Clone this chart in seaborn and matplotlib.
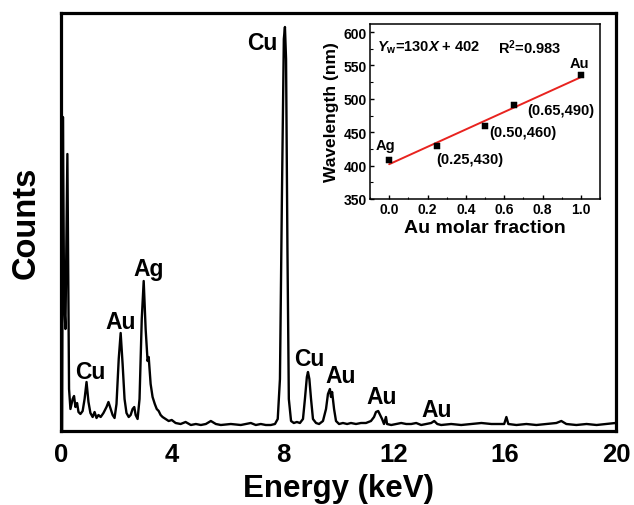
import matplotlib
matplotlib.use("Agg")
import matplotlib.pyplot as plt
from matplotlib.ticker import MultipleLocator
import seaborn as sns
import pandas as pd

# ---------------- data ----------------
energy_kev = [0.04, 0.07, 0.11, 0.16, 0.23, 0.29, 0.34, 0.42, 0.47, 0.52, 0.58, 0.63, 0.70, 0.78,
              0.85, 0.92, 0.99, 1.06, 1.14, 1.21, 1.28, 1.35, 1.43, 1.53, 1.64, 1.71, 1.79, 1.86,
              1.93, 2.00, 2.08, 2.15, 2.22, 2.29, 2.36, 2.44, 2.51, 2.58, 2.64, 2.69, 2.76, 2.83,
              2.91, 2.98, 3.05, 3.12, 3.16, 3.23, 3.30, 3.38, 3.45, 3.52, 3.59, 3.66, 3.77, 3.88,
              3.99, 4.13, 4.31, 4.49, 4.68, 4.86, 5.04, 5.22, 5.40, 5.58, 5.76, 6.12, 6.48, 6.84,
              7.02, 7.20, 7.38, 7.56, 7.71, 7.81, 7.89, 7.96, 8.03, 8.07, 8.11, 8.16, 8.21, 8.29,
              8.39, 8.50, 8.61, 8.72, 8.79, 8.86, 8.90, 8.95, 9.01, 9.08, 9.19, 9.30, 9.44, 9.55,
              9.62, 9.69, 9.73, 9.77, 9.84, 9.91, 10.02, 10.16, 10.31, 10.45, 10.63, 10.81, 10.99,
              11.17, 11.28, 11.35, 11.43, 11.50, 11.57, 11.64, 11.71, 11.75, 11.90, 12.08, 12.26,
              12.44, 12.62, 12.80, 12.98, 13.16, 13.34, 13.45, 13.56, 13.70, 14.06, 14.42, 14.78,
              15.15, 15.51, 15.87, 15.97, 16.05, 16.12, 16.41, 16.77, 17.13, 17.49, 17.85, 18.03,
              18.21, 18.57, 18.94, 19.30, 19.66, 19.98]
counts = [0, 3140, 1320, 1020, 2770, 420, 220, 320, 350, 240, 280, 190, 170, 200,
          320, 490, 290, 180, 140, 190, 130, 160, 140, 180, 240, 290, 220, 160,
          130, 270, 720, 980, 670, 320, 180, 140, 160, 220, 240, 160, 120, 320,
          1120, 1500, 1020, 700, 740, 470, 340, 270, 220, 200, 160, 140, 120, 100,
          110, 80, 70, 90, 60, 70, 60, 70, 100, 70, 60, 70, 60, 80,
          60, 70, 60, 60, 70, 120, 520, 2320, 3920, 4040, 3720, 1820, 320, 100,
          80, 90, 80, 120, 320, 540, 590, 520, 320, 120, 80, 70, 100, 220,
          370, 420, 340, 390, 220, 100, 70, 80, 70, 80, 70, 80, 80,
          100, 140, 190, 200, 160, 120, 70, 140, 70, 60, 70, 80,
          70, 70, 80, 60, 70, 80, 100, 70, 60, 70, 60, 70,
          80, 70, 70, 70, 140, 70, 60, 70, 60, 70, 80, 100,
          70, 60, 70, 60, 70, 80]

peak_labels = ["Cu", "Ag", "Au", "Cu", "Cu", "Au", "Au", "Au"]
peak_label_x = [7.27, 3.16, 2.15, 1.065, 8.94, 10.09, 11.57, 13.52]
peak_label_y = [3890, 1620, 1090, 590, 720, 550, 340, 210]

main_xticks = [0, 4, 8, 12, 16, 20]

au_fraction = [0.0, 0.25, 0.50, 0.65, 1.0]
wavelength_nm = [408, 430, 460, 490, 535]
point_labels = ["Ag", "(0.25,430)", "(0.50,460)", "(0.65,490)", "Au"]
point_label_x = [-0.017, 0.422, 0.698, 0.896, 0.995]
point_label_y = [431, 410, 451, 482.5, 553]

# ---------------- style ----------------
sns.set_theme(style="ticks")
plt.rcParams["font.family"] = ["Liberation Sans", "DejaVu Sans"]
plt.rcParams["font.weight"] = "bold"
plt.rcParams["text.color"] = "black"
plt.rcParams["axes.labelcolor"] = "black"
plt.rcParams["xtick.color"] = "black"
plt.rcParams["ytick.color"] = "black"
plt.rcParams["mathtext.fontset"] = "custom"
plt.rcParams["mathtext.rm"] = "Liberation Sans:bold"
plt.rcParams["mathtext.it"] = "Liberation Sans:bold:italic"
plt.rcParams["mathtext.bf"] = "Liberation Sans:bold"

fig = plt.figure(figsize=(6.34, 5.06), dpi=100)
ax = fig.add_axes([61 / 634, 1 - 432 / 506, (616 - 61) / 634, (432 - 14) / 506])

spec = pd.DataFrame({"Energy": energy_kev, "Counts": counts})
sns.lineplot(data=spec, x="Energy", y="Counts", ax=ax, color="black", lw=1.7,
             estimator=None, sort=True)
ax.set_xlim(0, 20)
ax.set_ylim(0, 4180)
ax.set_xticks(main_xticks)
ax.set_yticks([])
ax.tick_params(axis="x", length=0, pad=8, labelsize=18.5, colors="black")
for lab in ax.get_xticklabels():
    lab.set_fontweight("bold")
for s in ax.spines.values():
    s.set_linewidth(2.3)
    s.set_color("black")
ax.set_xlabel("Energy (keV)", fontsize=22.5, fontweight="bold", labelpad=5)
ax.set_ylabel("Counts", fontsize=23.5, fontweight="bold", labelpad=14)

for t, x, y in zip(peak_labels, peak_label_x, peak_label_y):
    ax.text(x, y, t, ha="center", va="center", fontsize=16.5, fontweight="bold")

# ---------------- inset ----------------
ins = fig.add_axes([370 / 634, 1 - 200 / 506, (600 - 370) / 634, (200 - 25) / 506])
pts = pd.DataFrame({"frac": au_fraction, "wl": wavelength_nm})
sns.regplot(data=pts, x="frac", y="wl", ax=ins, ci=None, scatter=False, truncate=True,
            line_kws={"color": "#e8231f", "lw": 1.4})
sns.scatterplot(data=pts, x="frac", y="wl", ax=ins, marker="s", s=18, color="black",
                edgecolor="black", zorder=3)
ins.set_xlim(-0.1, 1.1)
ins.set_ylim(350, 612)
ins.set_xticks([0.0, 0.2, 0.4, 0.6, 0.8, 1.0])
ins.set_yticks([350, 400, 450, 500, 550, 600])
ins.xaxis.set_minor_locator(MultipleLocator(0.1))
ins.yaxis.set_minor_locator(MultipleLocator(25))
ins.tick_params(which="both", direction="in", top=False, right=False, labelsize=10, pad=2.5,
                colors="black")
ins.tick_params(which="major", length=3, width=1)
ins.tick_params(which="minor", length=1.8, width=0.8)
ins.set_xticklabels([f"{v:.1f}" for v in [0.0, 0.2, 0.4, 0.6, 0.8, 1.0]], fontweight="bold")
ins.set_yticklabels([str(v) for v in [350, 400, 450, 500, 550, 600]], fontweight="bold")
for s in ins.spines.values():
    s.set_linewidth(1.1)
    s.set_color("black")
ins.set_xlabel("Au molar fraction", fontsize=14, fontweight="bold", labelpad=2)
ins.set_ylabel("Wavelength (nm)", fontsize=12.5, fontweight="bold", labelpad=3)

ins.text(-0.063, 578, r"$Y_{\mathrm{w}}$=130$X$ + 402", ha="left", va="center", fontsize=10.5)
ins.text(0.57, 578, r"R$^{2}$=0.983", ha="left", va="center", fontsize=10.5)
for t, x, y in zip(point_labels, point_label_x, point_label_y):
    ins.text(x, y, t, ha="center", va="center", fontsize=10.5, fontweight="bold")

fig.savefig("out.png", dpi=100)
